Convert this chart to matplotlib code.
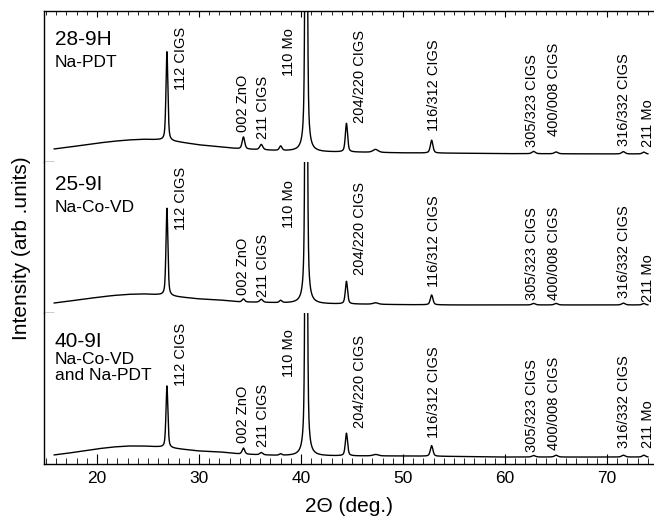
import numpy as np
import matplotlib.pyplot as plt

plt.rcParams['font.family'] = ['Liberation Sans', 'DejaVu Sans']

# background anchor points (2-theta, intensity in panel units)
bg_angles = [15.8, 17, 18.5, 20, 21.5, 23, 24.5, 26, 28, 30, 32, 34, 36, 38, 40, 42, 46, 50, 55, 60, 65, 70, 74]
bg_28_9h = [0.086, 0.096, 0.110, 0.124, 0.136, 0.145, 0.150, 0.146, 0.132, 0.113, 0.100, 0.086, 0.080,
            0.073, 0.070, 0.066, 0.064, 0.060, 0.058, 0.055, 0.054, 0.053, 0.053]
bg_25_9i = [0.066, 0.076, 0.090, 0.103, 0.115, 0.123, 0.126, 0.120, 0.106, 0.093, 0.086, 0.073, 0.070,
            0.066, 0.063, 0.060, 0.058, 0.055, 0.053, 0.053, 0.053, 0.053, 0.053]
bg_40_9i = [0.060, 0.070, 0.085, 0.100, 0.112, 0.119, 0.119, 0.113, 0.100, 0.086, 0.080, 0.066, 0.060,
            0.055, 0.053, 0.053, 0.053, 0.053, 0.050, 0.046, 0.046, 0.046, 0.046]

# reflections: position, FWHM, height above background
peak_centers = [26.85, 34.35, 36.1, 38.0, 40.5, 44.45, 47.3, 52.8, 62.8, 65.0, 71.6, 73.6]
peak_widths = [0.22, 0.30, 0.35, 0.30, 0.20, 0.26, 0.60, 0.30, 0.40, 0.40, 0.40, 0.35]
heights_28_9h = [0.59, 0.08, 0.035, 0.03, 4.0, 0.19, 0.02, 0.085, 0.015, 0.012, 0.015, 0.012]
heights_25_9i = [0.58, 0.02, 0.02, 0.015, 4.0, 0.15, 0.01, 0.065, 0.010, 0.010, 0.012, 0.010]
heights_40_9i = [0.41, 0.04, 0.015, 0.010, 4.0, 0.15, 0.01, 0.070, 0.010, 0.012, 0.012, 0.012]

# peak annotations
peak_labels = ['112 CIGS', '002 ZnO', '211 CIGS', '110 Mo', '204/220 CIGS',
               '116/312 CIGS', '305/323 CIGS', '400/008 CIGS', '316/332 CIGS', '211 Mo']
label_angles = [28.2, 34.3, 36.3, 38.8, 45.8, 53.0, 62.6, 64.8, 71.7, 74.0]
label_y_28_9h = [0.477, 0.199, 0.152, 0.570, 0.258, 0.205, 0.099, 0.172, 0.106, 0.099]
label_y_25_9i = [0.550, 0.119, 0.106, 0.563, 0.252, 0.172, 0.086, 0.086, 0.099, 0.073]
label_y_40_9i = [0.517, 0.139, 0.113, 0.576, 0.238, 0.172, 0.079, 0.093, 0.106, 0.106]

sample_ids = ['28-9H', '25-9I', '40-9I']
sample_desc = ['Na-PDT', 'Na-Co-VD', 'Na-Co-VD\nand Na-PDT']


def pattern(x, bg, heights):
    """Background plus pseudo-Voigt reflections."""
    y = np.interp(x, bg_angles, bg)
    for c, w, h in zip(peak_centers, peak_widths, heights):
        d = (x - c) / (w / 2)
        lor = 1.0 / (1.0 + d ** 2)
        gau = np.exp(-np.log(2) * d ** 2)
        y = y + h * (0.5 * lor + 0.5 * gau)
    return y


two_theta = np.linspace(15.8, 74.0, 4000)
backgrounds = [bg_28_9h, bg_25_9i, bg_40_9i]
heights = [heights_28_9h, heights_25_9i, heights_40_9i]
label_ys = [label_y_28_9h, label_y_25_9i, label_y_40_9i]

fig = plt.figure(figsize=(6.54, 5.2), dpi=100)
axes = fig.subplots(3, 1, sharex=True)
fig.subplots_adjust(left=0.0673, right=1.0, top=0.979, bottom=0.1077, hspace=0)

for i, ax in enumerate(axes):
    ax.plot(two_theta, pattern(two_theta, backgrounds[i], heights[i]),
            color='black', lw=1.0)
    ax.set_ylim(0, 1)
    ax.set_xlim(14.8, 74.6)
    for lab, xa, ya in zip(peak_labels, label_angles, label_ys[i]):
        ax.text(xa, ya, lab, rotation=90, ha='center', va='bottom', fontsize=10.5)
    ax.text(0.018, [0.874, 0.914, 0.874][i], sample_ids[i], transform=ax.transAxes,
            fontsize=15, va='top', ha='left')
    ax.text(0.018, [0.709, 0.748, 0.742][i], sample_desc[i], transform=ax.transAxes,
            fontsize=12.5, va='top', ha='left', linespacing=1.05)

    ax.spines['right'].set_visible(False)
    for s in ax.spines.values():
        s.set_linewidth(1.0)
    ax.spines['top'].set_visible(i == 0)
    ax.spines['bottom'].set_visible(i == 2)

    ax.set_xticks(np.arange(20, 71, 10))
    ax.set_xticks(np.arange(15, 75, 1), minor=True)
    if i == 0:
        ax.tick_params(axis='x', which='both', top=True, bottom=False,
                       labelbottom=False, direction='in')
        ax.tick_params(axis='x', which='major', length=4)
        ax.tick_params(axis='x', which='minor', length=3)
    elif i == 1:
        ax.tick_params(axis='x', which='both', bottom=False, top=False,
                       labelbottom=False)
    else:
        ax.tick_params(axis='x', which='both', direction='in', labelsize=12.5, pad=5)
        ax.tick_params(axis='x', which='major', length=7)
        ax.tick_params(axis='x', which='minor', length=4)

    if i < 2:
        ax.set_yticks([0])
        ax.tick_params(axis='y', direction='in', length=7, width=1.0, labelleft=False)
    else:
        ax.set_yticks([])

axes[2].set_xlabel('2\u0398 (deg.)', fontsize=15, labelpad=8)
fig.text(22 / 654, 1 - 248 / 520, 'Intensity (arb .units)', rotation=90,
         ha='center', va='center', fontsize=15)

fig.savefig('out.png', dpi=100)
